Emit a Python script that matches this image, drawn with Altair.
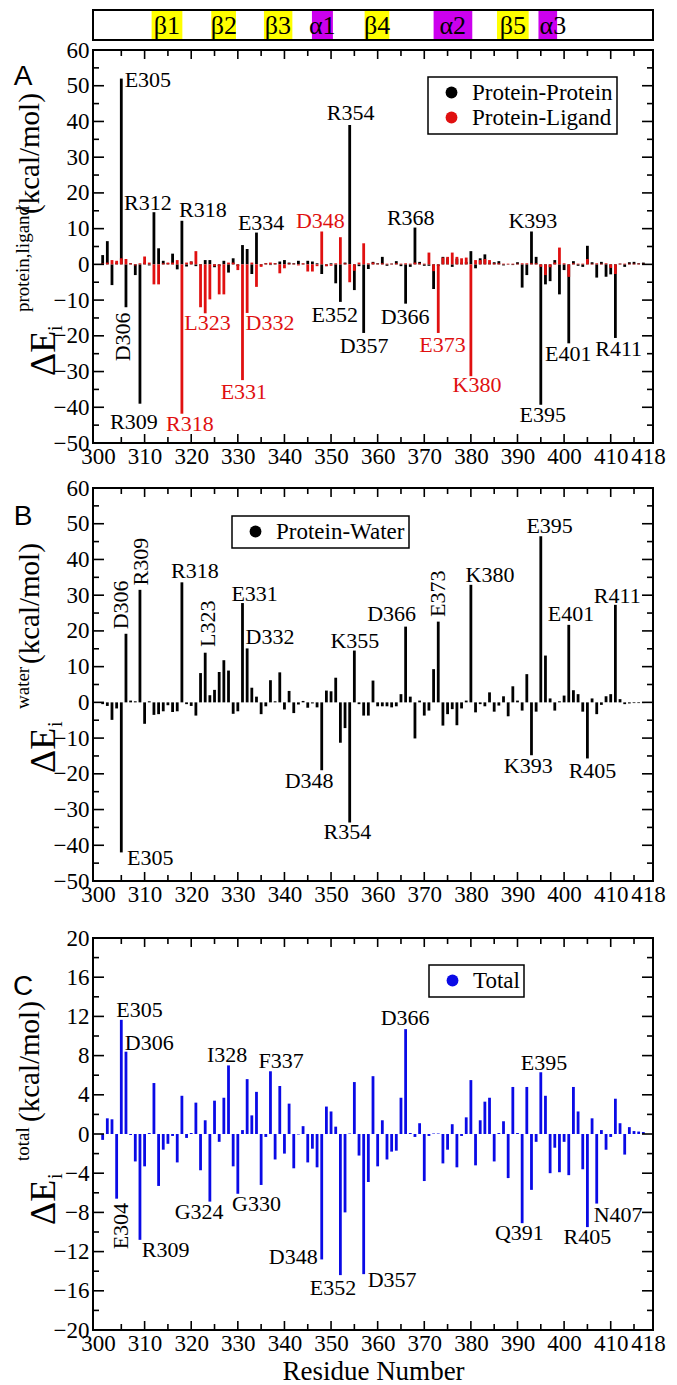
import altair as alt
import pandas as pd

SERIF = "Liberation Serif"
SANS = "Liberation Sans"
RED = "#e01010"
BLUE = "#0a0ae6"
YELLOW = "#ffff00"
MAGENTA = "#cc00ee"

# ---------------- data ----------------
RES = list(range(301, 418))

PP = [2.6, 6.5, -5.8, 0.5, 52.0, -12.0, 0.3, -3.0, -39.0, 0.5,
      -0.3, 14.6, 4.5, 1.0, 0.3, 3.0, -1.4, 12.2, -0.6, 0.8,
      -0.5, -0.3, 1.2, 1.2, -0.8, -0.5, 1.0, -2.3, 1.7, -0.5,
      5.4, 4.3, -2.7, 8.9, -0.3, 0.3, -0.2, 0.3, 0.8, 1.2,
      0.5, 0.3, 1.0, 0.2, 1.0, 0.8, 0.3, -2.7, -0.5, 0.3,
      -5.3, -10.5, 0.5, 39.0, -7.2, -0.5, -19.2, -1.3, 0.7, 0.3,
      2.1, -0.4, 0.2, 0.9, -0.5, -11.0, -0.7, 10.3, 0.7, -0.4,
      -0.4, -6.9, -0.5, 2.1, 1.7, -0.7, 1.6, 0.5, 0.7, 3.7,
      -1.1, 1.7, 2.8, 0.5, 0.6, 0.9, -0.3, 0.1, -0.2, 0.6,
      -6.5, -3.0, 9.2, 2.1, -39.3, -5.6, -4.7, 1.2, -8.4, -1.6,
      -22.1, 0.9, -0.4, -0.7, 5.2, 0.6, -3.7, 0.7, -3.5, -2.8,
      -20.6, 0.2, -0.7, 0.6, 0.7, 0.3, 0.5]

PL = [0.3, 0.5, 1.2, 1.0, 1.7, 1.5, 0.3, -0.3, 0.3, 2.2,
      0.5, -5.6, -5.6, 0.3, 0.5, 0.5, 1.2, -41.8, 0.5, 0.8,
      3.7, -12.0, -13.7, -9.8, -0.5, -8.4, -8.4, 0.5, 0.5, -1.6,
      -32.4, -13.6, 0.5, -6.3, -0.7, 0.3, 0.5, 0.3, -2.5, -1.1,
      0.3, 0.2, -0.3, 0.3, -2.0, -2.0, -0.5, 9.2, -0.5, -0.4,
      0.3, 7.6, 0.3, -5.0, -1.8, 0.5, 5.9, 0.3, 0.5, 0.2,
      0.3, 0.2, 0.2, 0.3, 0.2, 0.3, 0.2, 0.5, 0.3, 0.2,
      3.3, -1.9, -19.2, 1.9, 2.1, 3.3, 2.1, 1.7, 1.9, -31.3,
      1.2, 1.2, 1.5, 1.2, 0.3, 0.3, 0.2, 0.2, 0.2, 0.2,
      0.3, 0.3, 0.3, 0.3, -0.7, -3.0, -0.8, 0.5, 4.7, 0.3,
      -3.5, 0.3, 0.2, 0.2, 1.5, 0.2, 0.3, 0.2, 0.3, -1.0,
      -2.7, 0.2, 0.2, 0.2, 0.2, 0.2, 0.2]

WATER = [-0.5, -1.0, -4.9, -1.7, -42.0, 19.2, 0.5, 0.3, 31.5, -6.0,
         0.3, -3.5, -3.3, -2.5, -0.8, -2.7, -2.5, 33.6, -0.5, -1.0,
         -3.7, 8.2, 13.9, 2.0, 3.5, 8.5, 11.8, 8.9, -3.2, -2.5,
         27.8, 15.1, 4.1, 1.6, -3.3, -1.1, 6.2, 0.3, 8.4, -2.0,
         3.2, -3.0, -0.6, 0.4, -1.5, -0.3, -1.4, -19.0, 3.3, 3.1,
         6.9, -11.3, -7.2, -33.6, 14.5, -0.5, -3.7, -3.7, 6.1, -1.1,
         -1.1, -1.1, -1.4, -1.1, 2.3, 21.2, 1.6, -10.1, 0.5, -3.7,
         -2.3, 9.3, 22.6, -6.5, -3.3, -1.9, -6.4, -1.7, 0.5, 32.9,
         -2.8, -0.5, -1.1, 2.8, -2.6, -0.9, 1.7, -3.9, 4.5, 0.5,
         -2.3, 7.9, -14.8, -2.6, 46.5, 13.1, 1.1, -2.3, 0.3, 1.9,
         21.7, 3.4, 2.3, -2.6, -15.7, 1.1, -3.3, -0.7, 1.7, 2.3,
         27.3, 0.9, -0.5, -0.3, -0.2, -0.2, -0.2]

TOTAL = [-0.6, 1.6, 1.5, -6.6, 11.65, 8.4, -0.1, -2.8, -10.8, -3.3,
         0.1, 5.2, -5.3, -1.6, -1.0, -0.2, -2.9, 3.9, -0.4, 0.1,
         3.2, -3.7, 1.4, -6.9, 3.4, -0.8, 3.7, 7.0, -3.3, -6.1,
         0.4, 5.6, 1.9, 4.3, -5.2, -0.3, 6.4, -2.6, 4.9, -2.0,
         3.1, -3.5, -0.05, 0.8, -2.9, -1.5, -3.4, -12.8, 2.8, 2.3,
         0.75, -14.4, -8.0, 0.05, 5.3, -2.2, -14.3, -4.9, 5.9, -3.3,
         1.4, -2.6, -1.8, -1.7, 3.7, 10.7, 0.1, -0.3, 1.1, -4.8,
         -0.2, 0.05, 0.05, -3.0, -1.6, 1.0, -3.4, -0.2, 1.7, 5.5,
         -3.2, 1.4, 3.3, 3.7, -2.8, 0.1, 1.3, -4.5, 4.8, 0.1,
         -9.1, 4.8, -5.7, -0.8, 6.3, 3.9, -4.0, -1.4, -3.9, -0.8,
         -4.2, 4.8, 2.3, -3.6, -9.5, 1.6, -7.1, 0.4, -1.6, -0.3,
         3.6, 1.1, -2.1, 0.7, 0.3, 0.25, 0.2]

X_LABELS = [300, 310, 320, 330, 340, 350, 360, 370, 380, 390, 400, 410, 418]
X_MAJOR_TICKS = [310, 320, 330, 340, 350, 360, 370, 380, 390, 400, 410]
X_MINOR_TICKS = [305, 315, 325, 335, 345, 355, 365, 375, 385, 395, 405, 415]
Y_LABELS_AB = [-50, -40, -30, -20, -10, 0, 10, 20, 30, 40, 50, 60]
Y_MINOR_AB = [-45, -35, -25, -15, -5, 5, 15, 25, 35, 45, 55]
Y_LABELS_C = [-20, -16, -12, -8, -4, 0, 4, 8, 12, 16, 20]
Y_MINOR_C = [-18, -14, -10, -6, -2, 2, 6, 10, 14, 18]

SS_NAMES = ["β1", "β2", "β3", "α1", "β4", "α2", "β5", "α3"]
SS_TYPE = ["strand", "strand", "strand", "helix", "strand", "helix", "strand", "helix"]
SS_START = [311.5, 324.3, 335.6, 345.9, 357.2, 372.0, 385.6, 394.5]
SS_END = [318.1, 329.6, 341.7, 350.4, 362.5, 380.3, 392.4, 398.5]
SS_LABEL_AT = [314.8, 327.0, 338.6, 348.1, 359.9, 376.1, 389.0, 397.6]

# annotation labels: text, residue position, energy position, series, rotated
LABELS_A = [
    ("E305", 310.7, 51.7, "pp", 0), ("D306", 305.3, -20.3, "pp", 1),
    ("R309", 307.7, -44.1, "pp", 0), ("R312", 310.7, 17.1, "pp", 0),
    ("R318", 322.5, 15.2, "pp", 0), ("R318", 319.7, -44.6, "pl", 0),
    ("L323", 323.5, -16.5, "pl", 0), ("D332", 336.9, -16.5, "pl", 0),
    ("E331", 331.3, -35.7, "pl", 0), ("E334", 335.0, 11.5, "pp", 0),
    ("D348", 347.7, 12.0, "pl", 0), ("R354", 354.2, 42.3, "pp", 0),
    ("E352", 350.8, -14.2, "pp", 0), ("D357", 357.1, -22.9, "pp", 0),
    ("R368", 367.1, 12.9, "pp", 0), ("D366", 365.9, -14.7, "pp", 0),
    ("E373", 373.9, -22.6, "pl", 0), ("K380", 381.3, -33.8, "pl", 0),
    ("K393", 393.3, 12.0, "pp", 0), ("E395", 395.4, -42.2, "pp", 0),
    ("E401", 400.9, -25.0, "pp", 0), ("R411", 411.7, -23.6, "pp", 0),
]
LABELS_B = [
    ("D306", 305.0, 27.3, "w", 1), ("R309", 309.2, 39.4, "w", 1),
    ("R318", 320.8, 36.9, "w", 0), ("L323", 323.6, 22.0, "w", 1),
    ("E331", 333.6, 30.4, "w", 0), ("D332", 336.9, 18.2, "w", 0),
    ("K355", 355.1, 17.3, "w", 0), ("D348", 345.3, -22.0, "w", 0),
    ("R354", 353.5, -36.4, "w", 0), ("E305", 311.2, -43.5, "w", 0),
    ("D366", 363.0, 24.8, "w", 0), ("E373", 372.9, 30.4, "w", 1),
    ("K380", 384.1, 35.7, "w", 0), ("E395", 396.9, 49.3, "w", 0),
    ("E401", 401.5, 24.8, "w", 0), ("R411", 411.4, 29.9, "w", 0),
    ("K393", 392.3, -17.8, "w", 0), ("R405", 406.1, -19.2, "w", 0),
]
LABELS_C = [
    ("E305", 308.9, 12.7, "t", 0), ("D306", 311.0, 9.3, "t", 0),
    ("I328", 327.7, 8.1, "t", 0), ("F337", 339.3, 7.4, "t", 0),
    ("E304", 305.0, -9.4, "t", 1), ("R309", 314.5, -11.8, "t", 0),
    ("G324", 321.7, -8.0, "t", 0), ("G330", 334.0, -7.1, "t", 0),
    ("D348", 341.9, -12.6, "t", 0), ("E352", 350.4, -15.7, "t", 0),
    ("D357", 363.1, -14.9, "t", 0), ("D366", 365.9, 11.8, "t", 0),
    ("E395", 395.7, 7.2, "t", 0), ("Q391", 390.4, -10.1, "t", 0),
    ("R405", 405.0, -10.5, "t", 0), ("N407", 411.6, -8.3, "t", 0),
]

W = 560
XS = alt.Scale(domain=[300, 418], nice=False, zero=False)


def text_piece(txt, size, x, y, font=SERIF, angle=270, align="left",
               baseline="alphabetic"):
    return alt.Chart(pd.DataFrame({"t": [txt]})).mark_text(
        font=font, fontSize=size, angle=angle, align=align,
        baseline=baseline, color="black"
    ).encode(text="t:N", x=alt.value(x), y=alt.value(y))


def make_panel(bars, domain, rng, legend_xy, labels, label_colors, ydom,
               ylabels, ymajor, yminor, H, pieces, letter, letter_xy, xtitle,
               with_structure=False):
    ys = alt.Scale(domain=ydom, nice=False, zero=False)
    common = dict(format="d", labelFont=SERIF, labelFontSize=23,
                  labelColor="black", ticks=False, domain=False, grid=False,
                  labelFlush=False, labelOverlap=False)
    if xtitle:
        xaxis = alt.Axis(values=X_LABELS, labelPadding=2, title=xtitle,
                         titleFont=SERIF, titleFontSize=27,
                         titleFontWeight="normal", titleColor="black",
                         titlePadding=3, **common)
    else:
        xaxis = alt.Axis(values=X_LABELS, labelPadding=2, title=None, **common)
    yaxis = alt.Axis(values=ylabels, labelPadding=4, title=None, **common)

    def X(f):
        return alt.X(f, scale=XS, axis=xaxis)

    def Y(f):
        return alt.Y(f, scale=ys, axis=yaxis)

    base = alt.Chart(bars).mark_bar(size=2.8).encode(
        x=X("res:Q"), y=Y("val:Q"), y2=alt.datum(0),
        color=alt.Color("series:N", scale=alt.Scale(domain=domain, range=rng),
                        legend=alt.Legend(orient="none", legendX=legend_xy[0],
                                          legendY=legend_xy[1], title=None,
                                          symbolType="circle", symbolSize=140,
                                          symbolStrokeWidth=0, symbolOffset=8,
                                          labelFont=SERIF, labelFontSize=23,
                                          labelColor="black", strokeColor="black",
                                          fillColor="white", padding=4,
                                          labelOffset=9, rowPadding=1)),
    )
    layers = [base]
    lab = pd.DataFrame(labels, columns=["t", "x", "y", "s", "rot"])
    for key, col in label_colors.items():
        for rot in (0, 1):
            sub = lab[(lab.s == key) & (lab.rot == rot)]
            if len(sub) == 0:
                continue
            layers.append(alt.Chart(sub).mark_text(
                font=SERIF, fontSize=22, color=col, align="center",
                baseline="middle", angle=270 if rot else 0).encode(
                x=X("x:Q"), y=Y("y:Q"), text="t:N"))
    # inward ticks on all four sides
    for vals, L in ((X_MAJOR_TICKS, 9), (X_MINOR_TICKS, 6)):
        d = pd.DataFrame({"t": vals})
        for y0, y1 in ((H, H - L), (0, L)):
            layers.append(alt.Chart(d).mark_rule(color="black", strokeWidth=1.6).encode(
                x=X("t:Q"), y=alt.value(y0), y2=alt.value(y1)))
    for vals, L in ((ymajor, 11), (yminor, 6)):
        d = pd.DataFrame({"t": vals})
        for x0, x1 in ((0, L), (W, W - L)):
            layers.append(alt.Chart(d).mark_rule(color="black", strokeWidth=1.6).encode(
                y=Y("t:Q"), x=alt.value(x0), x2=alt.value(x1)))
    # y-axis title pieces (sub/superscripts) and panel letter
    for txt, size, x, y in pieces:
        layers.append(text_piece(txt, size, x, y))
    layers.append(text_piece(letter, 28, letter_xy[0], letter_xy[1], font=SANS,
                             angle=0, align="center", baseline="middle"))
    if with_structure:
        ss = pd.DataFrame({"name": SS_NAMES, "type": SS_TYPE, "start": SS_START,
                           "end": SS_END, "lx": SS_LABEL_AT})
        layers.append(alt.Chart(ss).mark_rect().encode(
            x=X("start:Q"), x2="end:Q", y=alt.value(-40), y2=alt.value(-10),
            fill=alt.Fill("type:N", scale=alt.Scale(domain=["strand", "helix"],
                                                     range=[YELLOW, MAGENTA]),
                          legend=None)))
        layers.append(alt.Chart(pd.DataFrame({"a": [0]})).mark_rect(
            fill="transparent", stroke="black", strokeWidth=2).encode(
            x=alt.value(0), x2=alt.value(W), y=alt.value(-40), y2=alt.value(-10)))
        layers.append(alt.Chart(ss).mark_text(
            font=SERIF, fontSize=26, baseline="middle", color="black").encode(
            x=X("lx:Q"), y=alt.value(-24), text="name:N"))
    return alt.layer(*layers).properties(width=W, height=H)


# ----- panel A (with the secondary-structure strip above it) -----
dfA = pd.concat([
    pd.DataFrame({"res": RES, "val": PP, "series": "Protein-Protein"}),
    pd.DataFrame({"res": RES, "val": PL, "series": "Protein-Ligand"}),
], ignore_index=True)
panelA = make_panel(
    dfA, ["Protein-Protein", "Protein-Ligand"], ["black", RED], (335, 27),
    LABELS_A, {"pp": "black", "pl": RED}, [-50, 60], Y_LABELS_AB,
    Y_LABELS_AB, Y_MINOR_AB, 393,
    [("ΔE", 36, -38, 326), ("i", 20, -31, 281),
     ("protein,ligand", 19, -64, 262), ("(kcal/mol)", 29, -54, 164)],
    "A", (-70, 27), None, with_structure=True)

# ----- panel B -----
dfB = pd.DataFrame({"res": RES, "val": WATER, "series": "Protein-Water"})
panelB = make_panel(
    dfB, ["Protein-Water"], ["black"], (139, 28), LABELS_B, {"w": "black"},
    [-50, 60], Y_LABELS_AB, Y_LABELS_AB, Y_MINOR_AB, 393,
    [("ΔE", 36, -38, 285), ("i", 20, -31, 239),
     ("water", 19, -64, 221), ("(kcal/mol)", 29, -54, 176)],
    "B", (-70, 29), None)

# ----- panel C -----
dfC = pd.DataFrame({"res": RES, "val": TOTAL, "series": "Total"})
panelC = make_panel(
    dfC, ["Total"], [BLUE], (336, 27), LABELS_C, {"t": "black"},
    [-20, 20], Y_LABELS_C, Y_LABELS_C, Y_MINOR_C, 392,
    [("ΔE", 36, -38, 287), ("i", 20, -31, 241),
     ("total", 19, -64, 223), ("(kcal/mol)", 29, -54, 184)],
    "C", (-70, 49), "Residue Number")

inner = alt.vconcat(panelA, panelB, spacing=7).resolve_scale(color="independent")
chart = alt.vconcat(inner, panelC, spacing=19).resolve_scale(
    color="independent"
).configure_view(stroke="black", strokeWidth=2).configure_legend(
    strokeWidth=1.5
).properties(padding={"left": 3, "top": 0, "right": 0, "bottom": 0})

chart.save("out.html", embed_options={"renderer": "svg", "actions": False})
